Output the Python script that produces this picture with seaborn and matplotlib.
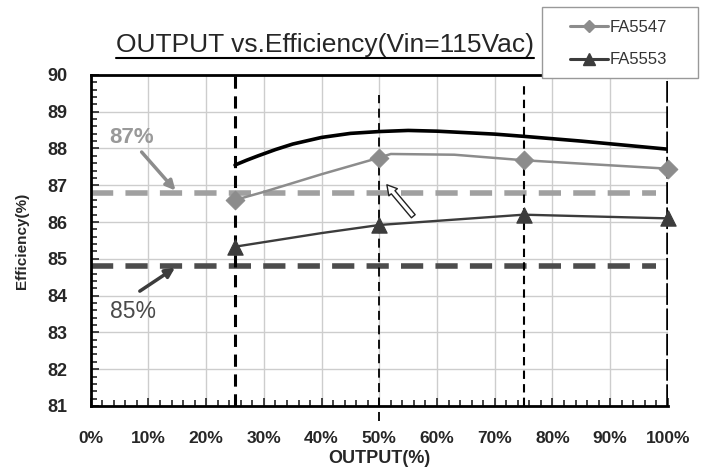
import numpy as np
import pandas as pd
import matplotlib
matplotlib.use("Agg")
import matplotlib.pyplot as plt
import seaborn as sns
from matplotlib.patches import Rectangle
from matplotlib.ticker import MultipleLocator, FuncFormatter

# Data
load_pts = [25, 50, 75, 100]
fa5547_pts = [86.6, 87.75, 87.68, 87.45]
fa5553_pts = [85.33, 85.92, 86.2, 86.1]

# line shapes (the curves bend between the measured points)
fa5547_x = [25, 30, 40, 50, 52, 63, 75, 100]
fa5547_y = [86.6, 86.82, 87.3, 87.75, 87.85, 87.83, 87.68, 87.45]
fa5553_x = [25, 40, 50, 75, 100]
fa5553_y = [85.33, 85.7, 85.92, 86.2, 86.1]
ref_x = [25, 27, 29, 32, 35, 40, 45, 50, 55, 60, 65, 70, 75, 85, 100]
ref_y = [87.55, 87.68, 87.8, 87.97, 88.12, 88.3, 88.41, 88.46, 88.49, 88.47, 88.43, 88.39, 88.33, 88.2, 87.98]

target_87 = 86.8
target_85 = 84.8

sns.set_style("white")
plt.rcParams['font.family'] = ['Liberation Sans', 'DejaVu Sans']

W, H = 709, 474
fig = plt.figure(figsize=(W / 100, H / 100), dpi=100)
ax = fig.add_axes([0.128, 0.1435, 0.814, 0.6985])

ax.set_xlim(0, 100)
ax.set_ylim(81, 90)

# grid
ax.xaxis.set_major_locator(MultipleLocator(10))
ax.xaxis.set_minor_locator(MultipleLocator(2))
ax.yaxis.set_major_locator(MultipleLocator(1))
ax.yaxis.set_minor_locator(MultipleLocator(0.2))
ax.grid(True, which="major", color="#cdcdcd", lw=1.0)
ax.set_axisbelow(True)

# target lines
ax.hlines(target_87, 0, 98, colors="#a0a0a0", linestyles=(0, (4, 2.2)), lw=4, zorder=2)
ax.hlines(target_85, 0, 98, colors="#4c4c4c", linestyles=(0, (4, 2.2)), lw=4, zorder=2)

# vertical markers at load points
ax.vlines(25, 81, 90, colors="black", linestyles=(0, (4, 2.5)), lw=2.2, zorder=3)
ax.vlines(50, 80.6, 89.45, colors="black", linestyles=(0, (5, 3)), lw=1.3, zorder=3, clip_on=False)
ax.vlines(75, 81, 89.7, colors="black", linestyles=(0, (4, 2.5)), lw=1.5, zorder=3)
ax.vlines(100, 81, 90, colors="black", linestyles=(0, (6, 1)), lw=2.6, zorder=3)

# curves
ref_df = pd.DataFrame({"x": ref_x, "y": ref_y})
sns.lineplot(data=ref_df, x="x", y="y", ax=ax, color="black", lw=2.6, zorder=4)

df47 = pd.DataFrame({"x": fa5547_x, "y": fa5547_y})
sns.lineplot(data=df47, x="x", y="y", ax=ax, color="#8c8c8c", lw=1.8, zorder=4)
pts47 = pd.DataFrame({"x": load_pts, "y": fa5547_pts})
sns.scatterplot(data=pts47, x="x", y="y", ax=ax, color="#8c8c8c", marker="D", s=90,
                edgecolor="#8c8c8c", zorder=5, clip_on=False)

df53 = pd.DataFrame({"x": fa5553_x, "y": fa5553_y})
sns.lineplot(data=df53, x="x", y="y", ax=ax, color="#3c3c3c", lw=1.7, zorder=4)
pts53 = pd.DataFrame({"x": load_pts, "y": fa5553_pts})
sns.scatterplot(data=pts53, x="x", y="y", ax=ax, color="#3c3c3c", marker="^", s=120,
                edgecolor="#3c3c3c", zorder=5, clip_on=False)

# annotations
ax.annotate("", xy=(15, target_87), xytext=(8.5, 87.96),
            arrowprops=dict(arrowstyle="-|>", color="#8c8c8c", lw=2.5, mutation_scale=14), zorder=6)
ax.text(3.2, 88.15, "87%", color="#999999", fontsize=16, fontweight="bold", zorder=6)
ax.annotate("", xy=(15, target_85), xytext=(8.1, 84.08),
            arrowprops=dict(arrowstyle="-|>", color="#3c3c3c", lw=2.5, mutation_scale=14), zorder=6)
ax.text(3.3, 83.4, "85%", color="#4a4a4a", fontsize=16.5, zorder=6)
ax.annotate("", xy=(51, 87.07), xytext=(56.2, 86.1),
            arrowprops=dict(arrowstyle="simple,head_width=0.8,head_length=0.7,tail_width=0.35",
                            facecolor="white", edgecolor="#222222", lw=1.0), zorder=6)

# ticks
ax.xaxis.set_major_formatter(FuncFormatter(lambda v, p: f"{int(v)}%"))
ax.tick_params(axis="both", which="major", direction="in", length=6, width=1.2,
               labelsize=12.5, pad=18, top=False, right=False, bottom=True, left=True)
ax.tick_params(axis="both", which="minor", direction="in", length=4, width=1.2,
               top=False, right=False, bottom=True, left=True)
ax.tick_params(axis="y", which="major", pad=17, labelsize=13)
for lab in ax.get_xticklabels() + ax.get_yticklabels():
    lab.set_fontweight("bold")

for side in ["left", "bottom", "right", "top"]:
    ax.spines[side].set_color("black")
ax.spines["left"].set_linewidth(2)
ax.spines["bottom"].set_linewidth(2)
ax.spines["top"].set_linewidth(2)
ax.spines["right"].set_visible(False)

ax.set_xlabel("OUTPUT(%)", fontsize=13, fontweight="bold", labelpad=3)
ax.set_ylabel("Efficiency(%)", fontsize=11, fontweight="bold", labelpad=13)

# underlined title
title = fig.text(0.459, 0.905, "OUTPUT vs.Efficiency(Vin=115Vac)", ha="center", va="center",
                 fontsize=19)
fig.canvas.draw()
bb = title.get_window_extent(renderer=fig.canvas.get_renderer()).transformed(fig.transFigure.inverted())
fig.add_artist(plt.Line2D([bb.x0, bb.x1], [bb.y0 - 0.002, bb.y0 - 0.002], color="black", lw=1.5,
                          transform=fig.transFigure))

# legend: box drawn separately (wide side padding), entries without frame
box = Rectangle((542 / W, 1 - 78 / H), 156 / W, 71 / H, transform=fig.transFigure,
                facecolor="white", edgecolor="#999999", lw=1.0, zorder=8)
fig.add_artist(box)
h1 = plt.Line2D([], [], color="#8c8c8c", lw=2.2, marker="D", markersize=6, label="FA5547")
h2 = plt.Line2D([], [], color="#3c3c3c", lw=2.2, marker="^", markersize=8, label="FA5553")
leg = fig.legend(handles=[h1, h2], loc="upper left", bbox_to_anchor=(570 / W, 1 - 20 / H),
                 fontsize=12, frameon=False, handlelength=2.3, handletextpad=0.05,
                 borderpad=0, labelspacing=1.05, borderaxespad=0, labelcolor="#333333")
leg.set_zorder(10)

fig.savefig("out.png", dpi=100)
